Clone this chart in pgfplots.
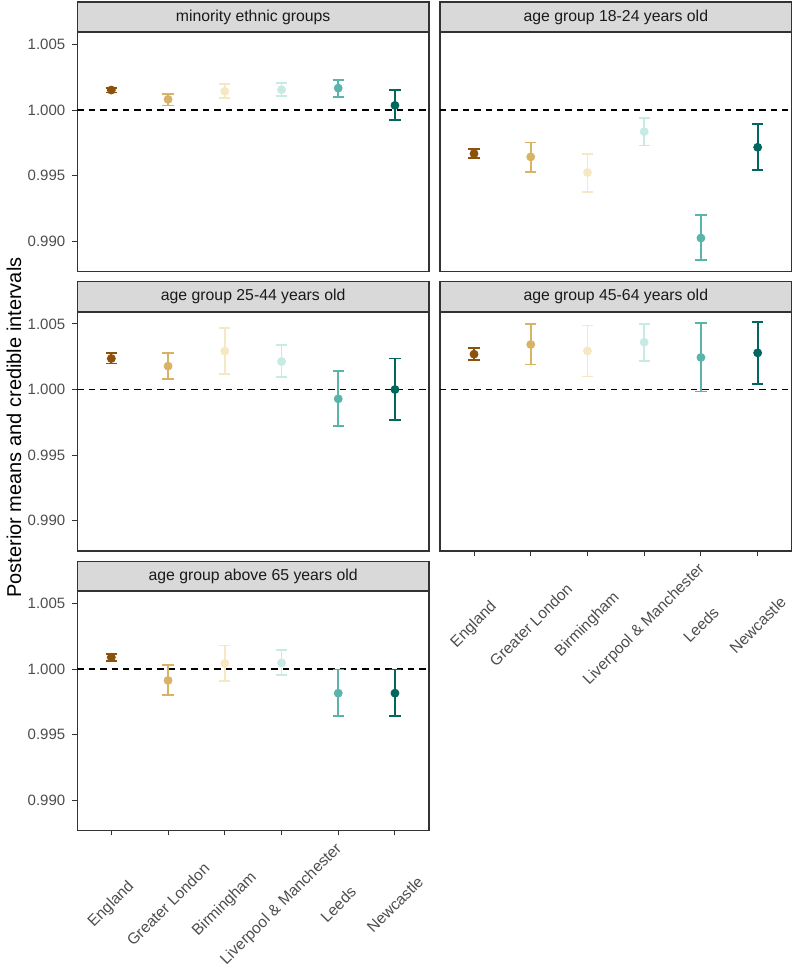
\documentclass[border=0pt]{standalone}
\usepackage{fontspec}
\setmainfont{Liberation Sans}
\usepackage{pgfplots}
\usepackage{pgfplotstable}
\pgfplotsset{compat=1.18}

\definecolor{c1}{HTML}{8C510A}
\definecolor{c2}{HTML}{D8B365}
\definecolor{c3}{HTML}{F6E8C3}
\definecolor{c4}{HTML}{C7EAE5}
\definecolor{c5}{HTML}{5AB4AC}
\definecolor{c6}{HTML}{01665E}
\definecolor{grey20}{HTML}{333333}
\definecolor{grey30}{HTML}{4D4D4D}
\definecolor{grey85}{HTML}{D9D9D9}
\definecolor{grey10}{HTML}{1A1A1A}

% x = region, y = posterior mean, lo/hi = credible interval
\pgfplotstableread{
x y lo hi
1 1.00152 1.00134 1.00167
2 1.00081 1.00035 1.00119
3 1.00142 1.00089 1.00197
4 1.00154 1.00106 1.00203
5 1.00167 1.00101 1.00228
6 1.00035 0.99924 1.00152
}\tabMin
\pgfplotstableread{
x y lo hi
1 0.99668 0.99633 0.99706
2 0.99643 0.99529 0.99752
3 0.99524 0.99375 0.99668
4 0.99835 0.99729 0.99942
5 0.99025 0.98856 0.99200
6 0.99716 0.99542 0.99894
}\tabA
\pgfplotstableread{
x y lo hi
1 1.00236 1.00198 1.00279
2 1.00178 1.00079 1.00277
3 1.00292 1.00117 1.00470
4 1.00213 1.00094 1.00338
5 0.99929 0.99721 1.00142
6 1.00000 0.99766 1.00236
}\tabB
\pgfplotstableread{
x y lo hi
1 1.00269 1.00223 1.00315
2 1.00343 1.00190 1.00497
3 1.00294 1.00099 1.00487
4 1.00360 1.00218 1.00500
5 1.00244 0.99985 1.00505
6 1.00279 1.00043 1.00515
}\tabC
\pgfplotstableread{
x y lo hi
1 1.00089 1.00059 1.00117
2 0.99913 0.99804 1.00028
3 1.00043 0.99906 1.00179
4 1.00046 0.99952 1.00145
5 0.99816 0.99640 0.99997
6 0.99816 0.99640 0.99997
}\tabD

\newcommand{\tickfont}{\fontsize{7.5}{9}\selectfont}

\pgfplotsset{
  panel/.style={
    scale only axis, width=175.85pt, height=119.5pt,
    xmin=0.4, xmax=6.6, ymin=0.98771, ymax=1.00591,
    axis line style={grey20, line width=0.6pt},
    major tick style={grey20, line width=0.5pt},
    major tick length=2.5pt, tick align=outside,
    xtick pos=bottom, ytick pos=left,
    xtick={1,...,6},
    xticklabels={England, Greater London, Birmingham, Liverpool \& Manchester, Leeds, Newcastle},
    ytick={0.990,0.995,1.000,1.005},
    yticklabels={0.990,0.995,1.000,1.005},
    /pgf/number format/assume math mode=true,
    ticklabel style={font=\tickfont, text=grey30},
    xticklabel style={font=\fontsize{7.8}{9}\selectfont, anchor=center, inner sep=0pt,
      yshift=-34.5pt, rotate=45},
    every axis title shift=0pt,
    title style={at={(0.5,1)}, anchor=south, yshift=0pt, draw=grey20, line width=0.6pt,
      fill=grey85, text=grey10, minimum width=175.85pt, minimum height=14.85pt,
      inner sep=0pt, font=\fontsize{7.9}{9}\selectfont},
  },
  noxticks/.style={xmajorticks=false},
  noyticks/.style={ymajorticks=false},
}

\newcommand{\panelplots}[1]{%
  \addplot[black, line width=0.75pt, dash pattern=on 3.2pt off 2.5pt, forget plot]
    coordinates {(0.4,1) (6.6,1)};
  \pgfplotsinvokeforeach{1,...,6}{%
    \addplot[c##1, only marks, mark=*, mark size=2pt,
      restrict x to domain=##1:##1,
      error bars/.cd, y dir=both, y explicit,
      error bar style={c##1, line width=0.9pt},
      error mark options={c##1, rotate=90, mark size=2.85pt, line width=0.9pt}]
      table[x=x, y=y,
        y error plus expr=\thisrow{hi}-\thisrow{y},
        y error minus expr=\thisrow{y}-\thisrow{lo}] {#1};
  }%
}

\begin{document}
\begin{tikzpicture}
\useasboundingbox (0,0) rectangle (397.5pt,-487pt);

\begin{axis}[panel, noxticks, at={(38.65pt,-16.2pt)}, anchor=north west,
  title={minority ethnic groups}]
\panelplots{\tabMin}
\end{axis}

\begin{axis}[panel, noxticks, noyticks, at={(220pt,-16.2pt)}, anchor=north west,
  title={age group 18-24 years old}]
\panelplots{\tabA}
\end{axis}

\begin{axis}[panel, noxticks, at={(38.65pt,-155.95pt)}, anchor=north west,
  title={age group 25-44 years old}]
\panelplots{\tabB}
\end{axis}

\begin{axis}[panel, noyticks, at={(220pt,-155.95pt)}, anchor=north west,
  title={age group 45-64 years old}]
\panelplots{\tabC}
\end{axis}

\begin{axis}[panel, at={(38.65pt,-295.7pt)}, anchor=north west,
  title={age group above 65 years old}]
\panelplots{\tabD}
\end{axis}

\node[rotate=90, font=\fontsize{10}{12}\selectfont, text=black] at (7pt,-213.75pt)
  {Posterior means and credible intervals};
\end{tikzpicture}
\end{document}
